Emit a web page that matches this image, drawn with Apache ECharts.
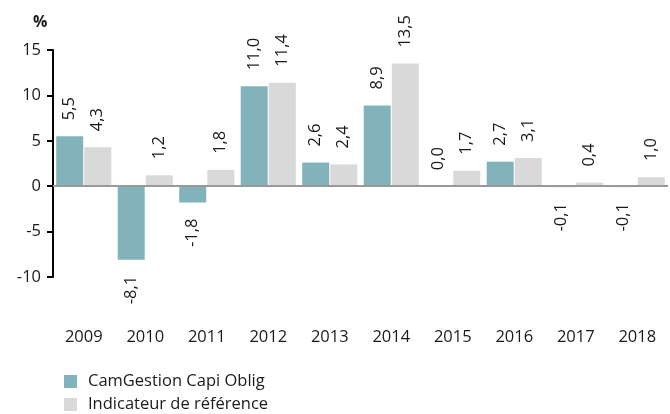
<!DOCTYPE html>
<html>
<head>
<meta charset="utf-8">
<script src="https://cdn.jsdelivr.net/npm/echarts@6/dist/echarts.min.js"></script>
<style>html,body{margin:0;padding:0;background:#fff}#c{width:670px;height:414px}</style>
</head>
<body>
<div id="c"></div>
<script>
const categories = ['2009','2010','2011','2012','2013','2014','2015','2016','2017','2018'];
const fundValues = [5.5, -8.1, -1.8, 11.0, 2.6, 8.9, 0.0, 2.7, -0.1, -0.1];
const benchValues = [4.3, 1.2, 1.8, 11.4, 2.4, 13.5, 1.7, 3.1, 0.4, 1.0];
const seriesNames = ['CamGestion Capi Oblig', 'Indicateur de référence'];
const yTicks = { min: -10, max: 15, interval: 5 };

const FONT = '"Open Sans", sans-serif';
const FS = 16.5;
const fmt = v => v.toFixed(1).replace('.', ',');

function makeData(vals) {
  return vals.map(v => ({
    value: v,
    label: v < 0
      ? { position: 'bottom', align: 'right', verticalAlign: 'middle' }
      : { position: 'top', align: 'left', verticalAlign: 'middle' }
  }));
}

const labelBase = {
  show: true, rotate: 90, distance: 16,
  fontFamily: FONT, fontSize: FS, color: '#1a1a1a',
  formatter: p => fmt(p.value)
};

const chart = echarts.init(document.getElementById('c'), null, { renderer: 'canvas' });
chart.setOption({
  animation: false,
  graphic: [{ type: 'text', left: 33, top: 14, style: { text: '%', font: 'bold 16px ' + FONT, fill: '#1a1a1a' } }],
  grid: { left: 53, right: 2, top: 50, bottom: 137, containLabel: false },
  legend: {
    orient: 'vertical', left: 64, top: 373, itemGap: 6, padding: 0,
    itemWidth: 13, itemHeight: 13, icon: 'rect',
    textStyle: { fontFamily: FONT, fontSize: FS, color: '#1a1a1a', padding: [0, 0, 0, 6] },
    data: seriesNames
  },
  xAxis: {
    type: 'category', data: categories,
    axisLine: { show: false, onZero: false },
    axisTick: { show: false },
    axisLabel: { margin: 52, fontFamily: FONT, fontSize: FS, color: '#1a1a1a' }
  },
  yAxis: {
    type: 'value', min: yTicks.min, max: yTicks.max, interval: yTicks.interval,
    splitLine: { show: false },
    axisLine: { show: true, lineStyle: { color: '#000', width: 2 } },
    axisTick: { show: true, length: 6, lineStyle: { color: '#000', width: 2 } },
    axisLabel: { margin: 12, fontFamily: FONT, fontSize: FS, color: '#1a1a1a' }
  },
  series: [
    {
      name: seriesNames[0], type: 'bar', data: makeData(fundValues),
      barWidth: 27, barGap: '4%',
      itemStyle: { color: '#83B3BA' },
      label: labelBase,
      markLine: {
        silent: true, symbol: 'none', label: { show: false },
        lineStyle: { color: '#999', width: 2, type: 'solid' },
        data: [{ yAxis: 0 }]
      }
    },
    {
      name: seriesNames[1], type: 'bar', data: makeData(benchValues),
      barWidth: 27, barGap: '4%',
      itemStyle: { color: '#D9D9D9' },
      label: labelBase
    }
  ]
});
</script>
</body>
</html>
